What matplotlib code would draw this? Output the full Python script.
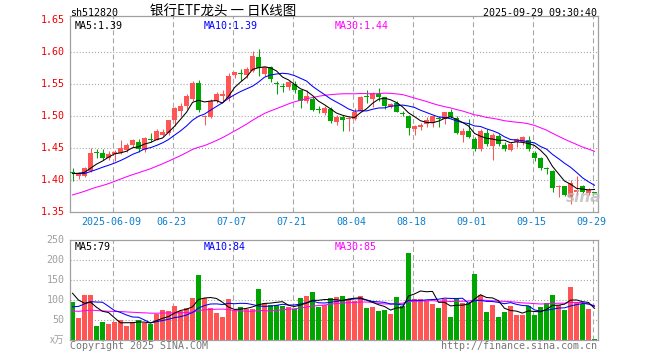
import pandas as pd
import matplotlib
matplotlib.use("Agg")
import matplotlib.pyplot as plt

plt.rcParams["lines.scale_dashes"] = False

RED, GREEN = "#ff5555", "#00a600"
MONO = "DejaVu Sans Mono"
CJK = ["Noto Sans CJK SC", "DejaVu Sans"]

# ---- data -------------------------------------------------------------
opens = [1.412, 1.407, 1.407, 1.414, 1.443, 1.442, 1.434, 1.440, 1.442, 1.447,
         1.455, 1.460, 1.447, 1.463, 1.463, 1.471, 1.474, 1.494, 1.508, 1.515,
         1.527, 1.551, 1.499, 1.499, 1.523, 1.532, 1.528, 1.564, 1.567, 1.564,
         1.571, 1.592, 1.566, 1.577, 1.551, 1.546, 1.545, 1.550, 1.540, 1.523,
         1.527, 1.510, 1.504, 1.511, 1.490, 1.499, 1.496, 1.496, 1.508, 1.530,
         1.527, 1.534, 1.529, 1.514, 1.521, 1.504, 1.500, 1.479, 1.483, 1.487,
         1.489, 1.496, 1.495, 1.506, 1.497, 1.470, 1.476, 1.464, 1.449, 1.473,
         1.453, 1.469, 1.454, 1.447, 1.460, 1.460, 1.463, 1.442, 1.434, 1.418,
         1.414, 1.389, 1.390, 1.374, 1.381, 1.391, 1.379, 1.381]
highs = [1.418, 1.412, 1.420, 1.450, 1.448, 1.448, 1.446, 1.447, 1.463, 1.458,
         1.464, 1.464, 1.467, 1.473, 1.479, 1.479, 1.494, 1.514, 1.521, 1.534,
         1.555, 1.557, 1.501, 1.527, 1.538, 1.540, 1.567, 1.569, 1.574, 1.576,
         1.601, 1.604, 1.578, 1.578, 1.554, 1.551, 1.555, 1.554, 1.541, 1.540,
         1.530, 1.515, 1.515, 1.514, 1.502, 1.501, 1.499, 1.513, 1.531, 1.540,
         1.538, 1.543, 1.530, 1.521, 1.523, 1.508, 1.502, 1.486, 1.489, 1.499,
         1.502, 1.500, 1.507, 1.511, 1.500, 1.482, 1.496, 1.467, 1.479, 1.479,
         1.473, 1.472, 1.460, 1.460, 1.465, 1.468, 1.468, 1.445, 1.436, 1.421,
         1.416, 1.392, 1.390, 1.400, 1.407, 1.392, 1.388, 1.381]
lows = [1.399, 1.402, 1.405, 1.412, 1.434, 1.431, 1.432, 1.429, 1.440, 1.444,
        1.452, 1.444, 1.444, 1.460, 1.462, 1.468, 1.470, 1.485, 1.500, 1.511,
        1.524, 1.507, 1.486, 1.497, 1.521, 1.524, 1.524, 1.559, 1.554, 1.559,
        1.569, 1.562, 1.563, 1.553, 1.534, 1.537, 1.540, 1.536, 1.512, 1.520,
        1.508, 1.504, 1.502, 1.489, 1.486, 1.476, 1.477, 1.493, 1.508, 1.521,
        1.514, 1.524, 1.511, 1.512, 1.507, 1.500, 1.470, 1.470, 1.478, 1.483,
        1.483, 1.483, 1.488, 1.497, 1.472, 1.459, 1.466, 1.446, 1.446, 1.453,
        1.431, 1.453, 1.446, 1.445, 1.452, 1.455, 1.445, 1.430, 1.416, 1.410,
        1.382, 1.373, 1.375, 1.363, 1.377, 1.379, 1.376, 1.380]
closes = [1.411, 1.411, 1.418, 1.442, 1.442, 1.435, 1.441, 1.444, 1.450, 1.455,
          1.462, 1.448, 1.466, 1.462, 1.477, 1.475, 1.493, 1.513, 1.516, 1.532,
          1.552, 1.510, 1.500, 1.523, 1.535, 1.533, 1.562, 1.569, 1.566, 1.574,
          1.593, 1.575, 1.576, 1.558, 1.550, 1.545, 1.553, 1.541, 1.524, 1.532,
          1.510, 1.509, 1.513, 1.492, 1.499, 1.493, 1.497, 1.507, 1.530, 1.529,
          1.536, 1.529, 1.515, 1.518, 1.507, 1.503, 1.482, 1.485, 1.486, 1.494,
          1.500, 1.495, 1.506, 1.499, 1.473, 1.477, 1.467, 1.448, 1.477, 1.457,
          1.471, 1.457, 1.449, 1.457, 1.464, 1.467, 1.448, 1.434, 1.419, 1.417,
          1.388, 1.391, 1.377, 1.395, 1.384, 1.382, 1.385, 1.380]
volumes = [95, 55, 112, 112, 35, 45, 40, 45, 50, 36,
           45, 50, 42, 40, 65, 74, 72, 85, 73, 80,
           105, 163, 104, 79, 68, 58, 102, 75, 83, 77,
           77, 128, 92, 87, 87, 85, 83, 77, 106, 110,
           120, 83, 87, 105, 108, 110, 102, 97, 110, 80,
           82, 72, 75, 65, 107, 85, 217, 102, 102, 97,
           90, 80, 102, 57, 105, 92, 92, 165, 112, 70,
           87, 57, 70, 85, 62, 62, 85, 62, 82, 92,
           112, 87, 75, 132, 95, 90, 77, 2]
# sessions before the first candle, only feed the moving averages
prior_close = [1.33, 1.33, 1.34, 1.35, 1.36, 1.35, 1.34, 1.34, 1.35, 1.36,
               1.36, 1.37, 1.37, 1.36, 1.36, 1.37, 1.38, 1.39, 1.39, 1.40,
               1.41, 1.42, 1.41, 1.41, 1.40, 1.41, 1.41, 1.41, 1.41]
prior_vol = [80, 70, 65, 60, 75, 70, 60, 55, 65, 70,
             75, 60, 65, 70, 60, 65, 75, 70, 65, 70,
             45, 50, 55, 45, 50, 141, 152, 97, 100]

tick_dates = ["2025-06-09", "2025-06-23", "2025-07-07", "2025-07-21", "2025-08-04",
              "2025-08-18", "2025-09-01", "2025-09-15", "2025-09-29"]
tick_labels = ["2025-06-09", "06-23", "07-07", "07-21", "08-04",
               "08-18", "09-01", "09-15", "09-29"]
price_levels = [1.35, 1.40, 1.45, 1.50, 1.55, 1.60, 1.65]
vol_levels = [50, 100, 150, 200, 250]

dates = [d for d in pd.bdate_range("2025-05-28", "2025-09-29")
         if d != pd.Timestamp("2025-06-02")]
x = list(range(len(dates)))
tick_pos = [dates.index(pd.Timestamp(d)) - 0.33 for d in tick_dates]


def moving(prior, values, n):
    s = pd.Series(prior + values).rolling(n).mean()
    return s.iloc[len(prior):].to_numpy()


# ---- figure -----------------------------------------------------------
fig = plt.figure(figsize=(6.6, 3.6), dpi=100)
W, H = 660, 360
L, R = 70, 597.7
ax = fig.add_axes([L / W, 1 - 212 / H, (R - L) / W, (212 - 15.7) / H])
axv = fig.add_axes([L / W, 1 - 340 / H, (R - L) / W, 100 / H])
xlim = (-2.5 / 6, (R - 72.5) / 6)

for a in (ax, axv):
    a.set_xlim(*xlim)
    a.set_xticks([]); a.set_yticks([])
    for sp in a.spines.values():
        sp.set_color("#a0a0a0"); sp.set_linewidth(0.9)
    for p in tick_pos:
        a.axvline(p, color="#a8a8a8", lw=0.8, ls=(0, (3.6, 2.2)), zorder=0)

ax.set_ylim(1.35, 1.35 + (212 - 15.7) / 640)
axv.set_ylim(0, 250)
for lv in price_levels[1:-1]:
    ax.axhline(lv, color="#a8a8a8", lw=0.8, ls=(0, (0.8, 1.4)), zorder=0)
for lv in vol_levels[:-1]:
    axv.axhline(lv, color="#a8a8a8", lw=0.8, ls=(0, (0.8, 1.4)), zorder=0)

# candles
colors = [RED if c >= o else GREEN for o, c in zip(opens, closes)]
body = [max(abs(c - o), 0.0016) for o, c in zip(opens, closes)]
bottom = [min(o, c) for o, c in zip(opens, closes)]
ax.vlines(x, lows, highs, colors=colors, lw=0.75, zorder=2)
ax.bar(x, body, bottom=bottom, width=0.8, color=colors, zorder=3)
axv.bar(x, volumes, width=0.8, color=colors, zorder=2)

for a, prior, vals in ((ax, prior_close, closes), (axv, prior_vol, volumes)):
    for n, col in ((30, "#ff00ff"), (10, "#0000ff"), (5, "black")):
        a.plot(x, moving(prior, vals, n), color=col, lw=0.75, zorder=4)

# axis labels
for lv in price_levels:
    ax.annotate(f"{lv:.2f}", xy=(0, lv), xycoords=("axes fraction", "data"),
                xytext=(-4, 0), textcoords="offset points", ha="right",
                va="center", color="#ee0000", fontsize=7.2, family=MONO)
for lv in vol_levels:
    axv.annotate(f"{lv}", xy=(0, lv), xycoords=("axes fraction", "data"),
                 xytext=(-4, 0), textcoords="offset points", ha="right",
                 va="center", color="#a0a0a0", fontsize=7.2, family=MONO)
axv.annotate("x万", xy=(0, 0), xycoords="axes fraction", xytext=(-4, 0),
             textcoords="offset points", ha="right", va="center",
             color="#a0a0a0", fontsize=7, family=CJK)
for p, lab in zip(tick_pos, tick_labels):
    ax.annotate(lab, xy=(p, 0), xycoords=("data", "axes fraction"),
                xytext=(-1, -7), textcoords="offset points", ha="center",
                va="center", color="#0a7fd0", fontsize=7.2, family=MONO)


def ftext(px, py, s, **kw):
    kw.setdefault("family", MONO)
    kw.setdefault("fontsize", 7.2)
    fig.text(px / W, 1 - py / H, s, va="center", **kw)


ftext(70, 13, "sh512820")
ftext(150, 12, "银行ETF龙头 一 日K线图", family=CJK, fontsize=9.7)
ftext(597, 13, "2025-09-29 09:30:40", ha="right")
ftext(75, 26, "MA5:1.39")
ftext(204, 26, "MA10:1.39", color="#0000ff")
ftext(335, 26, "MA30:1.44", color="#ff00ff")
ftext(75, 247, "MA5:79")
ftext(204, 247, "MA10:84", color="#0000ff")
ftext(335, 247, "MA30:85", color="#ff00ff")
ftext(70, 346, "Copyright 2025 SINA.COM", color="#777777")
ftext(597, 346, "http://finance.sina.com.cn", color="#777777", ha="right")
ftext(566, 197, "sina", family="DejaVu Sans", fontsize=11, style="italic",
      weight="bold", color="#bbbbbb", alpha=0.8)

fig.savefig("out.png", dpi=100, facecolor="white")
